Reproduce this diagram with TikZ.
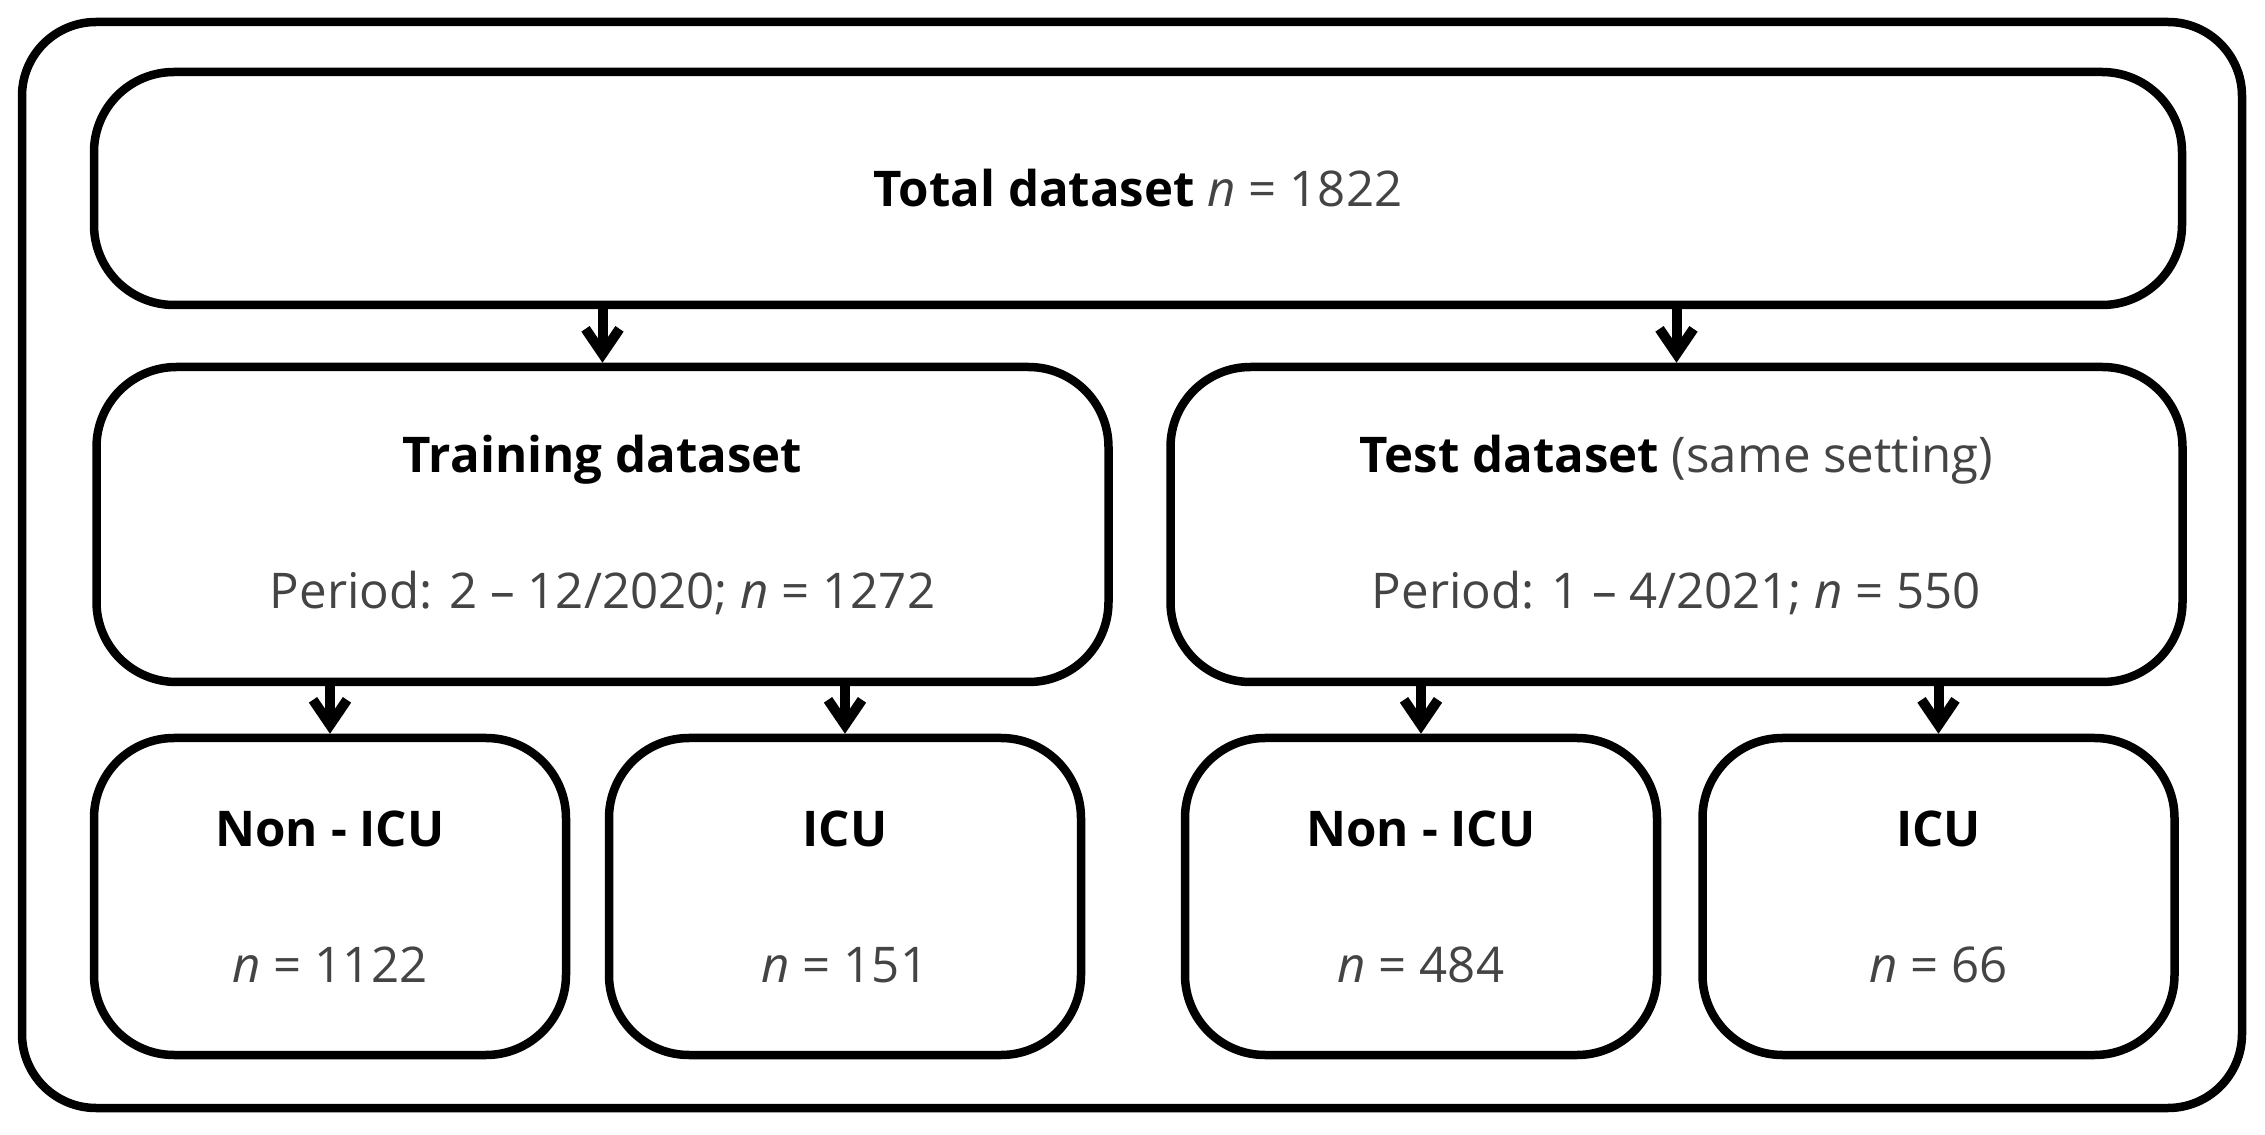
\documentclass[tikz,border=0pt]{standalone}
\usepackage{fontspec}
\setmainfont{Open Sans}
\usetikzlibrary{arrows.meta}
\definecolor{textgray}{HTML}{444444}
\newcommand{\ncount}{\textit{n}}
\newcommand{\boxtitle}[1]{\textcolor{black}{\textbf{#1}}}

\begin{document}
\begin{tikzpicture}[
    node distance=3.36cm,
    >={Straight Barb[length=2.5mm,width=3.4mm]},
    box/.style={draw, line width=0.85mm, rounded corners=0.8cm, inner sep=0pt,
      align=center, text=textgray, font=\fontsize{14}{17}\selectfont},
    topbox/.style={box, minimum width=20.88cm, minimum height=2.33cm},
    midbox/.style={box, minimum width=10.12cm, minimum height=3.15cm},
    leafbox/.style={box, minimum width=4.72cm, minimum height=3.17cm},
    frame/.style={draw, line width=0.85mm, rounded corners=0.74cm},
    link/.style={->, line width=1mm}
  ]
      \useasboundingbox (0,0) rectangle (22.65,-11.35);
      \draw[frame] (0.22,-0.22) rectangle (22.42,-11.08);

      \node [topbox] (total) at (11.38,-1.885) {\boxtitle{Total dataset} \ncount{} = 1822};
      \node [midbox, below of=total, xshift=-5.355cm] (train)
        {\boxtitle{Training dataset}\\[21.7pt]Period: 2 -- 12/2020; \ncount{} = 1272};
      \node [midbox, below of=total, xshift=5.385cm] (test)
        {\boxtitle{Test dataset} (same setting)\\[21.7pt]Period: 1 -- 4/2021; \ncount{} = 550};

      \node [leafbox, below of=train, xshift=-2.725cm, yshift=-0.36cm] (trainnon) {\boxtitle{Non - ICU}\\[21.7pt]\ncount{} = 1122};
      \node [leafbox, right of=trainnon, xshift=1.79cm] (trainicu) {\boxtitle{ICU}\\[21.7pt]\ncount{} = 151};
      \node [leafbox, below of=test, xshift=-2.555cm, yshift=-0.36cm] (testnon) {\boxtitle{Non - ICU}\\[21.7pt]\ncount{} = 484};
      \node [leafbox, right of=testnon, xshift=1.815cm] (testicu) {\boxtitle{ICU}\\[21.7pt]\ncount{} = 66};

      \draw[link] (total.south -| train.north) -- (train.north);
      \draw[link] (total.south -| test.north) -- (test.north);
      \draw[link] (train.south -| trainnon.north) -- (trainnon.north);
      \draw[link] (train.south -| trainicu.north) -- (trainicu.north);
      \draw[link] (test.south -| testnon.north) -- (testnon.north);
      \draw[link] (test.south -| testicu.north) -- (testicu.north);
\end{tikzpicture}
\end{document}
